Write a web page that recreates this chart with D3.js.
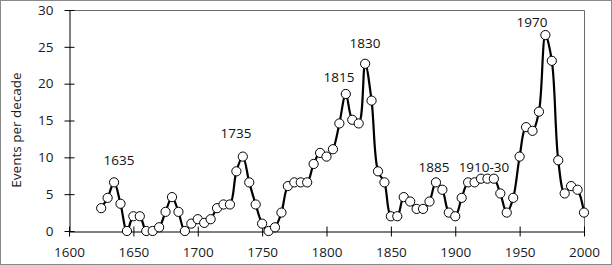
<!DOCTYPE html>
<html>
<head>
<meta charset="utf-8">
<script src="https://cdn.jsdelivr.net/npm/d3@7"></script>
<style>
html, body { margin: 0; padding: 0; background: #fff; }
svg { display: block; }
text { font-family: "Open Sans", "Liberation Sans", sans-serif; }
</style>
</head>
<body>
<svg id="chart" width="612" height="265"></svg>
<script>
const years = [1625,1630,1635,1640,1645,1650,1655,1660,1665,1670,1675,1680,1685,1690,1695,
  1700,1705,1710,1715,1720,1725,1730,1735,1740,1745,1750,1755,1760,1765,1770,1775,1780,1785,1790,1795,
  1800,1805,1810,1815,1820,1825,1830,1835,1840,1845,1850,1855,1860,1865,1870,1875,1880,1885,1890,1895,
  1900,1905,1910,1915,1920,1925,1930,1935,1940,1945,1950,1955,1960,1965,1970,1975,1980,1985,1990,1995,2000];
const events = [3.1,4.5,6.6,3.7,0,2.0,2.0,0,0,0.5,2.6,4.6,2.6,0,1.0,
  1.6,1.1,1.6,3.1,3.6,3.6,8.1,10.1,6.6,3.6,1.0,0,0.5,2.5,6.1,6.6,6.6,6.6,9.1,10.6,
  10.1,11.1,14.6,18.6,15.1,14.6,22.7,17.7,8.1,6.6,2.0,2.0,4.6,4.0,3.0,3.0,4.0,6.6,5.6,2.5,
  2.0,4.5,6.6,6.6,7.1,7.1,7.1,5.1,2.5,4.5,10.1,14.1,13.6,16.2,26.6,23.1,9.6,5.1,6.1,5.6,2.5];
const xTicks = [1600,1650,1700,1750,1800,1850,1900,1950,2000];
const yTicks = [0,5,10,15,20,25,30];
const noteText = ["1635","1735","1815","1830","1885","1910-30","1970"];
const noteYear = [1638.8,1729.7,1809.7,1829.9,1883.5,1922.3,1959.6];
const noteLevel = [9.6,13.3,20.8,25.5,8.7,8.7,28.4];
const yTitle = "Events per decade";

const svg = d3.select("#chart");
const W = 612, H = 265;
const mLeft = 69, mRight = 584, mTop = 10, mBottom = 231;

svg.append("rect").attr("x",0.5).attr("y",0.5).attr("width",W-1).attr("height",H-1)
  .attr("fill","#fff").attr("stroke","#898989");

const x = d3.scaleLinear().domain([1600,2000]).range([mLeft,mRight]);
const y = d3.scaleLinear().domain([0,30]).range([mBottom,mTop]);

svg.append("path")
  .attr("d", `M${mLeft},${mTop+0.5}H${mRight+0.5}V${mBottom}`)
  .attr("fill","none").attr("stroke","#6b6b6b").attr("stroke-width",1);

const yAxis = svg.append("g").attr("transform",`translate(${mLeft+0.5},0)`)
  .call(d3.axisLeft(y).tickValues(yTicks).tickSize(5).tickSizeOuter(0).tickPadding(11));
yAxis.selectAll(".tick line").attr("x1",5);
const xAxis = svg.append("g").attr("transform",`translate(0,${mBottom+0.5})`)
  .call(d3.axisBottom(x).tickValues(xTicks).tickFormat(d3.format("d")).tickSize(5).tickSizeOuter(0).tickPadding(11));
xAxis.selectAll(".tick line").attr("y1",-5);
svg.selectAll(".domain, .tick line").attr("stroke","#000").attr("stroke-width",1);
svg.selectAll(".tick text").attr("font-size",13.5).attr("fill","#1a1a1a")
  .style("font-family","'Open Sans', sans-serif");

svg.append("text")
  .attr("transform",`translate(21,130) rotate(-90)`)
  .attr("text-anchor","middle").attr("font-size",13.5).attr("fill","#1a1a1a")
  .text(yTitle);

const data = years.map((yr,i)=>({yr, v: events[i]}));
const line = d3.line().x(d=>x(d.yr)).y(d=>y(d.v)).curve(d3.curveCatmullRom.alpha(0.5));
svg.append("path").datum(data).attr("d",line)
  .attr("fill","none").attr("stroke","#000").attr("stroke-width",2.2).attr("stroke-linejoin","round");

svg.append("g").selectAll("circle").data(data).join("circle")
  .attr("cx",d=>x(d.yr)).attr("cy",d=>y(d.v)).attr("r",4.6)
  .attr("fill","#fff").attr("stroke","#000").attr("stroke-width",1);

svg.append("g").selectAll("text").data(noteText).join("text")
  .attr("x",(d,i)=>x(noteYear[i])).attr("y",(d,i)=>y(noteLevel[i]))
  .attr("dy","0.35em").attr("text-anchor","middle")
  .attr("font-size",13.5).attr("fill","#111").text(d=>d);
</script>
</body>
</html>
